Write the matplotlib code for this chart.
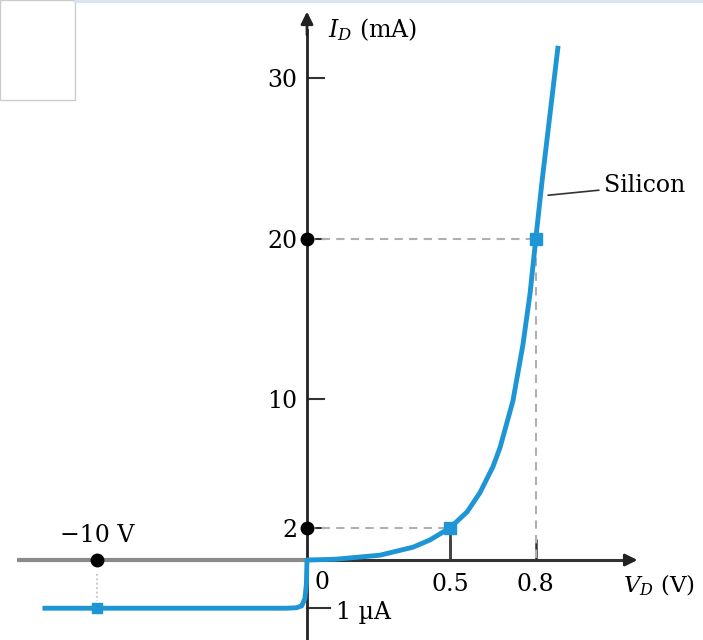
import numpy as np
import matplotlib.pyplot as plt
from matplotlib.patches import Rectangle
from matplotlib.lines import Line2D

plt.rcParams['font.family'] = ['DejaVu Serif']
plt.rcParams['mathtext.fontset'] = 'dejavuserif'

# silicon diode curve (V in volts, I in mA)
v_fwd = [0.0, 0.1, 0.255, 0.371, 0.43, 0.5, 0.56, 0.605, 0.65, 0.675, 0.72, 0.755, 0.78, 0.8, 0.822, 0.85, 0.878]
i_fwd = [0.0, 0.05, 0.3, 0.8, 1.25, 2.0, 3.0, 4.2, 5.8, 7.0, 9.9, 13.4, 16.6, 20.0, 23.6, 27.8, 32.0]
v_rev = [-12.6, -10.0, -5.0, -1.0, -0.5, -0.25, -0.1, -0.03]
i_rev = [-0.001, -0.001, -0.001, -0.001, -0.00099, -0.00095, -0.0008, -0.0005]

# marked operating points
pt_v = [0.5, 0.8]
pt_i = [2, 20]
rev_v = -10.0
rev_i = -0.001

yticks = [2, 10, 20, 30]
xticks = [0.5, 0.8]

blue = '#1e96d6'
dark = '#222222'


# broken scales: reverse voltage squeezed, reverse current stretched
def fx(v):
    v = np.asarray(v, float)
    return np.where(v < 0, v * 0.0734, v)


def fx_inv(u):
    u = np.asarray(u, float)
    return np.where(u < 0, u / 0.0734, u)


def fy(i):
    i = np.asarray(i, float)
    return np.where(i < 0, i * 3000, i)


def fy_inv(u):
    u = np.asarray(u, float)
    return np.where(u < 0, u / 3000, u)


fig = plt.figure(figsize=(7.03, 6.4), dpi=100)
ax = fig.add_axes([0, 0, 1, 1])
ax.set_xscale('function', functions=(fx, fx_inv))
ax.set_yscale('function', functions=(fy, fy_inv))
ax.set_xlim(-14.624, 1.3846)
ax.set_ylim(-0.001659, 34.85)
ax.patch.set_visible(False)

# axes through the origin
for s in ['top', 'right']:
    ax.spines[s].set_visible(False)
ax.spines['left'].set_position(('data', 0))
ax.spines['left'].set_bounds(-0.001659, 33.0)
ax.spines['left'].set_color(dark)
ax.spines['left'].set_linewidth(2)
ax.spines['bottom'].set_position(('data', 0))
ax.spines['bottom'].set_bounds(0, 1.12)
ax.spines['bottom'].set_color('#333333')
ax.spines['bottom'].set_linewidth(2.2)
ax.plot([-13.8, 0], [0, 0], color='#8a8a8a', lw=3, solid_capstyle='butt', zorder=1)
ax.annotate('', xy=(0, 34.3), xytext=(0, 32.5),
            arrowprops=dict(arrowstyle='-|>', color=dark, lw=2, mutation_scale=18))
ax.annotate('', xy=(1.165, 0), xytext=(1.1, 0),
            arrowprops=dict(arrowstyle='-|>', color=dark, lw=2, mutation_scale=18))

ax.set_yticks(yticks)
ax.set_yticklabels([str(t) for t in yticks])
ax.tick_params(axis='y', direction='in', length=13, width=1.5, pad=7, labelsize=17, color='#333333')
ax.set_xticks(xticks)
ax.set_xticklabels([str(t) for t in xticks])
ax.tick_params(axis='x', direction='in', length=15, width=1.8, pad=9, labelsize=17, color='#333333')
ax.minorticks_off()

# guide lines
ax.plot([0, pt_v[1], pt_v[1]], [pt_i[1], pt_i[1], 0], color='#b0b0b0', lw=1.5, ls=(0, (4, 3)), zorder=2)
ax.plot([0, pt_v[0]], [pt_i[0], pt_i[0]], color='#b0b0b0', lw=1.5, ls=(0, (4, 3)), zorder=2)
ax.plot([pt_v[0], pt_v[0]], [0, pt_i[0]], color='#444444', lw=2, zorder=2)
ax.plot([rev_v, rev_v], [-0.0003, -0.00085], color='#bbbbbb', lw=1.2, ls=':', zorder=2)

# curve
ax.plot(v_rev + v_fwd, i_rev + i_fwd, color=blue, lw=3.5, solid_capstyle='butt', zorder=3)
ax.plot(pt_v, pt_i, 's', color=blue, ms=8, zorder=4)
ax.plot([rev_v], [rev_i], 's', color=blue, ms=6.5, zorder=4)
ax.plot([0, 0, rev_v], [pt_i[1], pt_i[0], 0], 'o', color='black', ms=9, zorder=5)

# -1 uA tick and labels
ax.plot([0, 0.08], [rev_i, rev_i], color='#333333', lw=1.5, zorder=2)
ax.annotate('1 µA', xy=(0.1, rev_i), xytext=(0, -3), textcoords='offset points',
            ha='left', va='center', fontsize=17)
ax.annotate('0', xy=(0, 0), xytext=(11, -16), textcoords='offset points',
            ha='center', va='center', fontsize=17)
ax.annotate('\u221210 V', xy=(rev_v, 0), xytext=(0, 18), textcoords='offset points',
            ha='center', va='center', fontsize=17)
ax.annotate('$V_D$ (V)', xy=(1.105, 0), xytext=(0, -18), textcoords='offset points',
            ha='left', va='center', fontsize=16.5)
ax.annotate('$I_D$ (mA)', xy=(0, 32.98), xytext=(15, 0), textcoords='offset points',
            ha='left', va='center', fontsize=17)
ax.annotate('Silicon', xy=(0.843, 22.7), xytext=(1.04, 23.3), ha='left', va='center',
            fontsize=17, arrowprops=dict(arrowstyle='-', color='#333333', lw=1.2,
                                         shrinkA=2, shrinkB=0))

# frame remnants of the scanned page
fig.patches.append(Rectangle((0, 1 - 100 / 640), 75 / 703, 100 / 640, transform=fig.transFigure,
                             fill=False, edgecolor='#cccccc', lw=1))
fig.lines.append(Line2D([75 / 703, 1], [0.998, 0.998], transform=fig.transFigure,
                        color='#d5e3f0', lw=2))

fig.savefig('out.png', dpi=100)
